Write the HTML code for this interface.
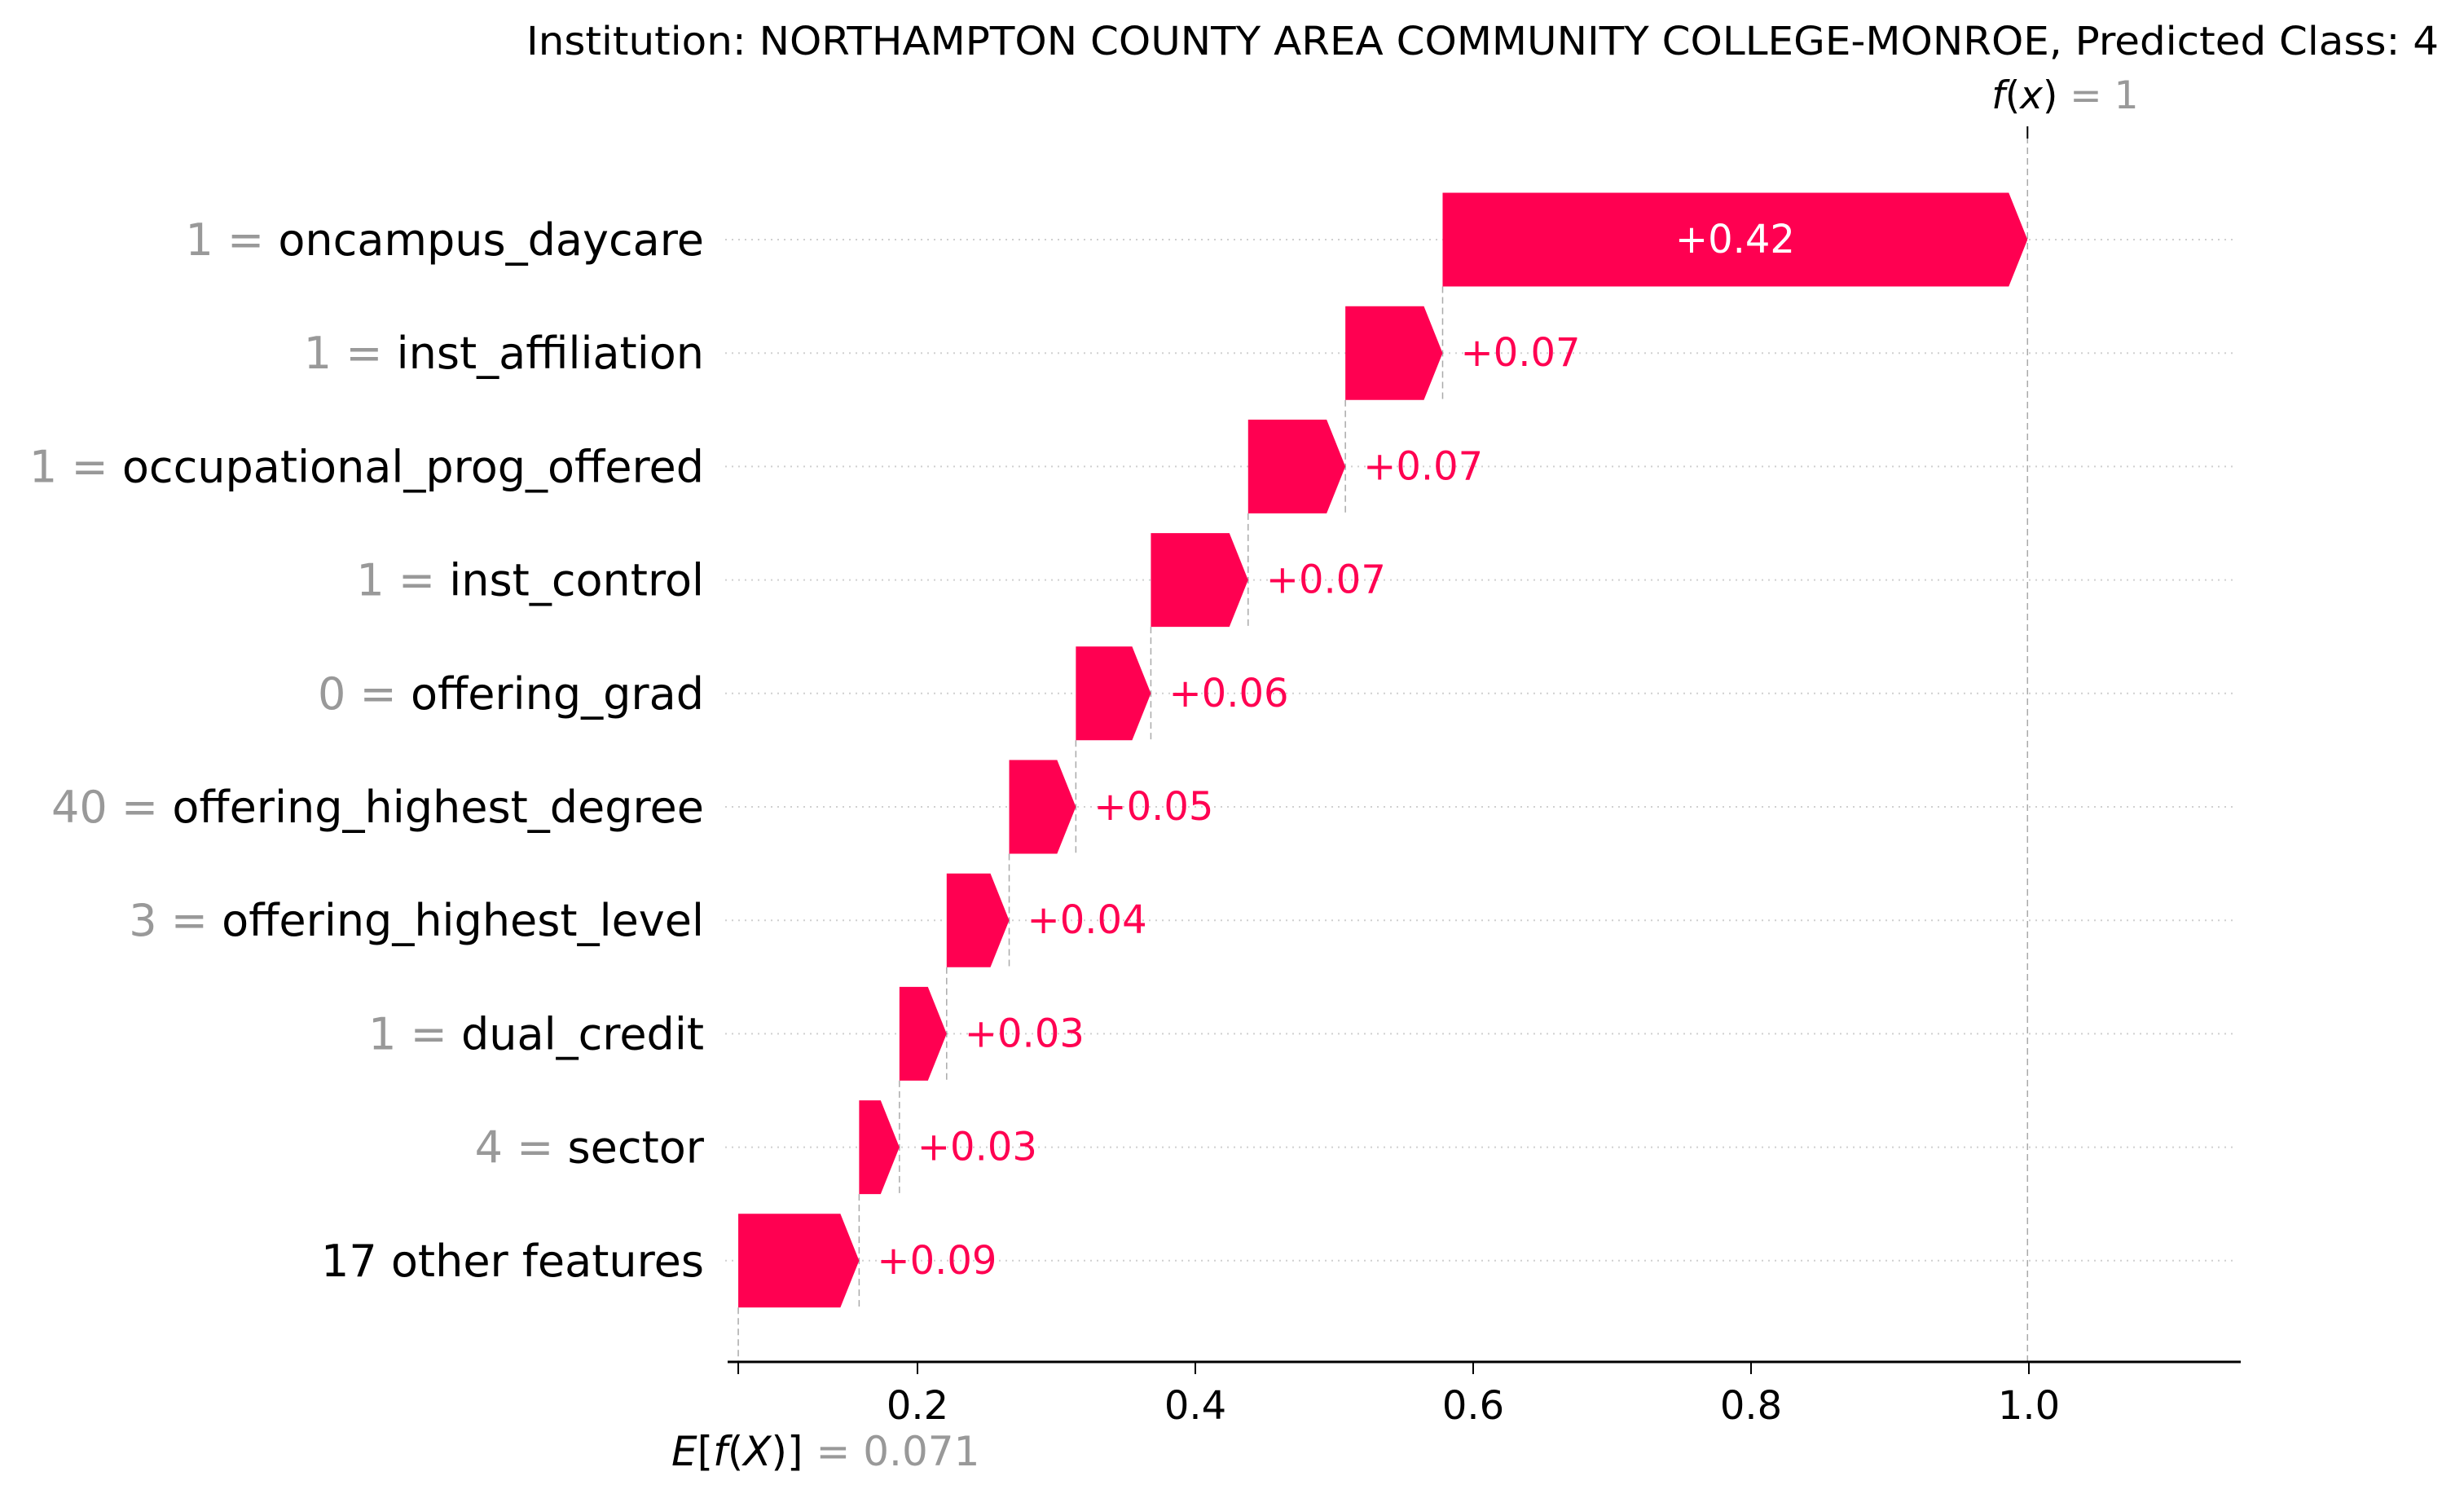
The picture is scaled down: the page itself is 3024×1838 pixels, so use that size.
<!DOCTYPE html>
<html><head><meta charset="utf-8"><style>
html,body{margin:0;padding:0;background:#fff;}
svg{display:block;font-family:"DejaVu Sans","Liberation Sans",sans-serif;}
</style></head><body>
<svg id="chart" width="3024" height="1838" viewBox="0 0 3024 1838" xmlns="http://www.w3.org/2000/svg">
<text x="2993" y="67" text-anchor="end" font-size="48" fill="#000" textLength="2347" lengthAdjust="spacingAndGlyphs">Institution: NORTHAMPTON COUNTY AREA COMMUNITY COLLEGE-MONROE, Predicted Class: 4</text>
<g id="grid"></g><g id="connectors"></g><g id="bars"></g><g id="labels"></g><g id="axis"></g>
</svg>
<script>
const featureNames = ["oncampus_daycare","inst_affiliation","occupational_prog_offered","inst_control","offering_grad","offering_highest_degree","offering_highest_level","dual_credit","sector","17 other features"];
const featureValues = ["1","1","1","1","0","40","3","1","4",""];
const shapValues = [0.421,0.070,0.070,0.070,0.054,0.048,0.045,0.034,0.029,0.087];
const valueLabels = ["+0.42","+0.07","+0.07","+0.07","+0.06","+0.05","+0.04","+0.03","+0.03","+0.09"];
const baseValue = 0.071;
const fxLabel = "1";
const baseLabel = "0.071";
const tickValues = [0.2,0.4,0.6,0.8,1.0];
const tickLabels = ["0.2","0.4","0.6","0.8","1.0"];

const NS="http://www.w3.org/2000/svg";
const xs = v => 785 + 1705*v;
const yRow = i => 294 + i*139.2;
const BH = 115, TIP = 23, AXY = 1671;
const RED = "#ff0051";
function mk(tag, attrs, parent){const e=document.createElementNS(NS,tag);for(const k in attrs)e.setAttribute(k,attrs[k]);document.getElementById(parent).appendChild(e);return e;}

const n = featureNames.length;
const ends = new Array(n), starts = new Array(n);
let acc = baseValue;
for (let i=n-1;i>=0;i--){starts[i]=acc; acc+=shapValues[i]; ends[i]=acc;}
const fx = acc;

for (let i=0;i<n;i++){
  const y=yRow(i);
  const g=mk("line",{x1:890,x2:2745,y1:y,y2:y,stroke:"#d0d0d0","stroke-width":2,"stroke-dasharray":"2,6"},"grid");
  
  
  const x0=xs(starts[i]), x1=xs(ends[i]);
  const tip=Math.min(TIP,x1-x0);
  const p=mk("polygon",{points:`${x0},${y-BH/2} ${x1-tip},${y-BH/2} ${x1},${y} ${x1-tip},${y+BH/2} ${x0},${y+BH/2}`,fill:RED},"bars");
  
  
  if (i<n-1){
    const c=mk("line",{x1:x0,x2:x0,y1:y+BH/2,y2:yRow(i+1)+BH/2,stroke:"#aaa","stroke-width":1.5,"stroke-dasharray":"8,5"},"connectors");
    
    
  }
  let t;
  if (i===0){
    t=mk("text",{x:(x0+x1)/2,y:y+16,"text-anchor":"middle","font-size":48,fill:"#fff"},"labels");
  } else {
    t=mk("text",{x:x1+22,y:y+16,"text-anchor":"start","font-size":48,fill:RED},"labels");
  }
  t.textContent=valueLabels[i];
  
  
  const fl=mk("text",{x:864,y:y+19,"text-anchor":"end","font-size":54,fill:"#000"},"labels");
  
  
  if (featureValues[i]!==""){
    const s1=document.createElementNS(NS,"tspan");s1.setAttribute("fill","#999");s1.textContent=featureValues[i]+" = ";fl.appendChild(s1);
  }
  const s2=document.createElementNS(NS,"tspan");s2.textContent=featureNames[i];fl.appendChild(s2);
}
let l=mk("line",{x1:xs(baseValue),x2:xs(baseValue),y1:yRow(n-1)+BH/2,y2:AXY,stroke:"#aaa","stroke-width":1.5,"stroke-dasharray":"8,5"},"connectors");


l=mk("line",{x1:xs(fx),x2:xs(fx),y1:155,y2:AXY,stroke:"#aaa","stroke-width":1.5,"stroke-dasharray":"8,5"},"connectors");


l=mk("line",{x1:xs(fx),x2:xs(fx),y1:155,y2:170,stroke:"#000","stroke-width":2},"connectors");


let ft=mk("text",{x:xs(fx)-44,y:133,"font-size":47,fill:"#000"},"labels");


ft.innerHTML='<tspan font-style="italic">f</tspan>(<tspan font-style="italic">x</tspan>)<tspan fill="#999"> = '+fxLabel+'</tspan>';
let et=mk("text",{x:xs(baseValue)-82,y:1798,"font-size":50,fill:"#000"},"labels");


et.innerHTML='<tspan font-style="italic">E</tspan>[<tspan font-style="italic">f</tspan>(<tspan font-style="italic">X</tspan>)]<tspan fill="#999"> = '+baseLabel+'</tspan>';
l=mk("line",{x1:893,x2:2750,y1:AXY,y2:AXY,stroke:"#000","stroke-width":3},"axis");


l=mk("line",{x1:xs(baseValue),x2:xs(baseValue),y1:AXY,y2:AXY+15,stroke:"#000","stroke-width":2},"axis");


for (let k=0;k<tickValues.length;k++){
  const x=xs(tickValues[k]);
  const tk=mk("line",{x1:x,x2:x,y1:AXY,y2:AXY+15,stroke:"#000","stroke-width":2},"axis");
  
  
  const tl=mk("text",{x:x,y:1741,"text-anchor":"middle","font-size":48,fill:"#000"},"axis");
  tl.textContent=tickLabels[k];
  
  
}
</script>
</body></html>
